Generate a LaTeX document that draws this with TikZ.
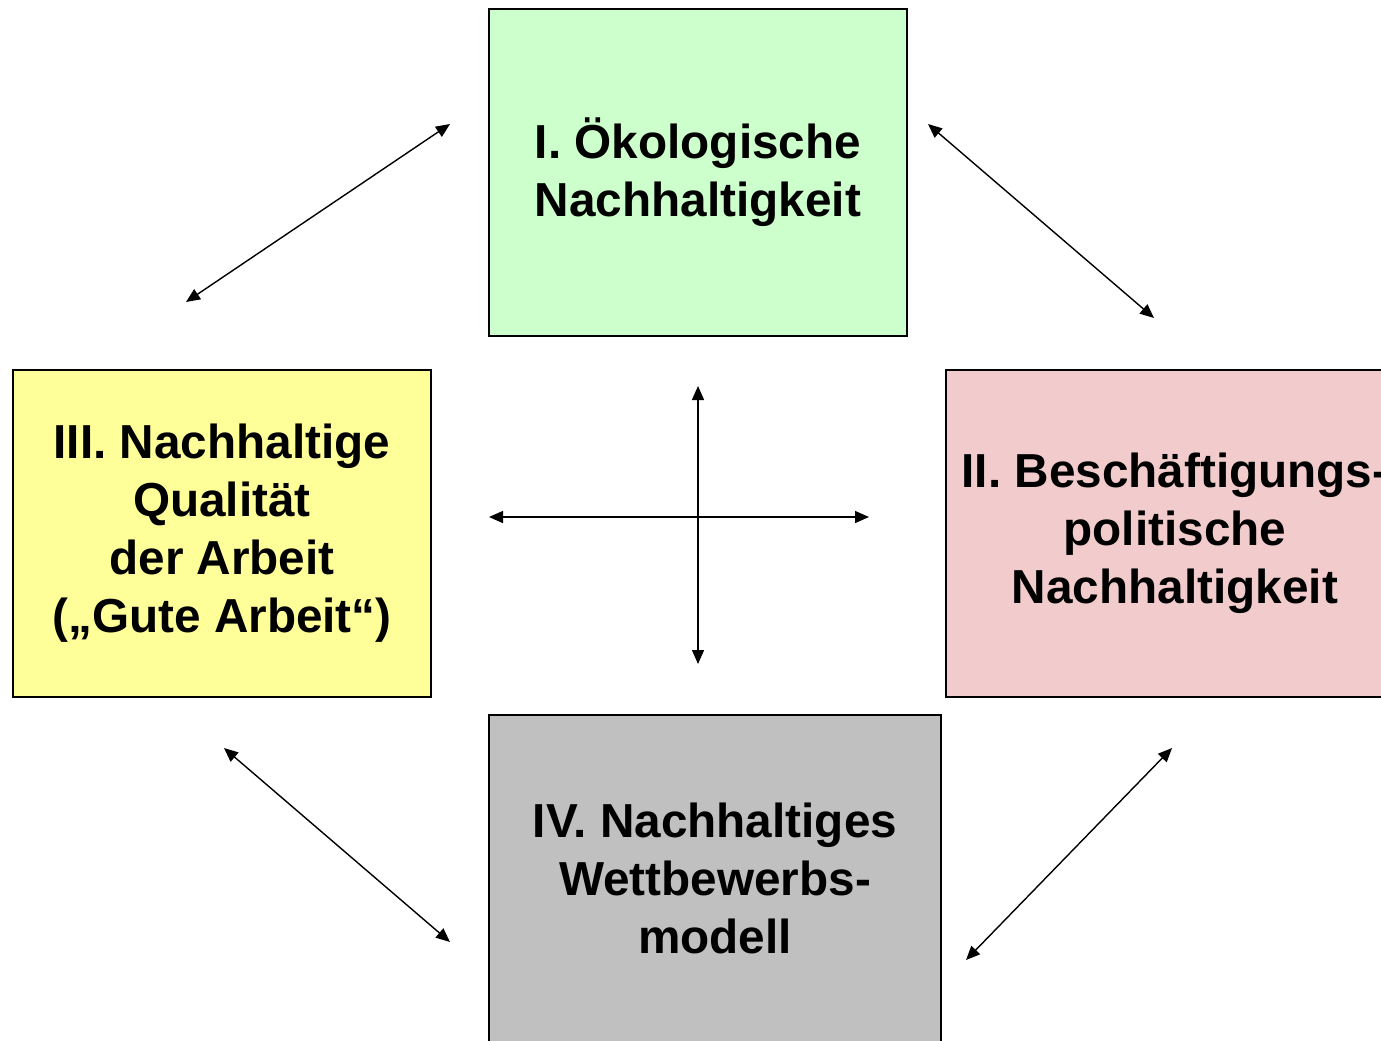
\documentclass[tikz,border=0pt]{standalone}
\usepackage{fontspec}
\setmainfont{Liberation Sans}
\usetikzlibrary{arrows.meta,positioning}

\definecolor{oekogreen}{HTML}{CCFFCC}
\definecolor{arbeityellow}{HTML}{FFFF99}
\definecolor{beschpink}{HTML}{F2CCCC}
\definecolor{wettgray}{HTML}{C0C0C0}

\begin{document}
\begin{tikzpicture}[x=0.5pt,y=-0.5pt,
  box/.style={rectangle, draw=black, line width=1pt, minimum width=209pt, minimum height=163.5pt,
    align=center, font=\fontsize{23.85}{29}\selectfont\bfseries},
  link/.style={{Triangle[length=7pt,width=6pt]}-{Triangle[length=7pt,width=6pt]}, line width=0.7pt}]
\useasboundingbox (0,0) rectangle (1381,1040);

\node[box, fill=oekogreen, name=oeko] at (698,172.5) {I. Ökologische\\Nachhaltigkeit};
\node[box, fill=arbeityellow, name=arbeit] at (222,533.5) {III. Nachhaltige\\Qualität\\der Arbeit\\(„Gute Arbeit“)};
\node[box, fill=beschpink, name=besch, minimum width=229pt] at (1175,533.5) {II. Beschäftigungs-\\politische\\Nachhaltigkeit};
\node[box, fill=wettgray, name=wett, minimum width=226pt] at (715,878) {IV. Nachhaltiges\\Wettbewerbs-\\modell};

% arrow ends
\coordinate (nw1) at (186,302);  \coordinate (nw2) at (450,124);
\coordinate (ne1) at (928,124);  \coordinate (ne2) at (1154,318);
\coordinate (sw1) at (224,748);  \coordinate (sw2) at (450,942);
\coordinate (se1) at (966,960);  \coordinate (se2) at (1172,748);
\coordinate (up) at (698,386);   \coordinate (down) at (698,664);
\coordinate (left) at (489,517); \coordinate (right) at (869,517);

\draw[link] (nw1) -- (nw2);
\draw[link] (ne1) -- (ne2);
\draw[link] (sw1) -- (sw2);
\draw[link] (se1) -- (se2);
\draw[link] (up) -- (down);
\draw[link] (left) -- (right);
\end{tikzpicture}
\end{document}
